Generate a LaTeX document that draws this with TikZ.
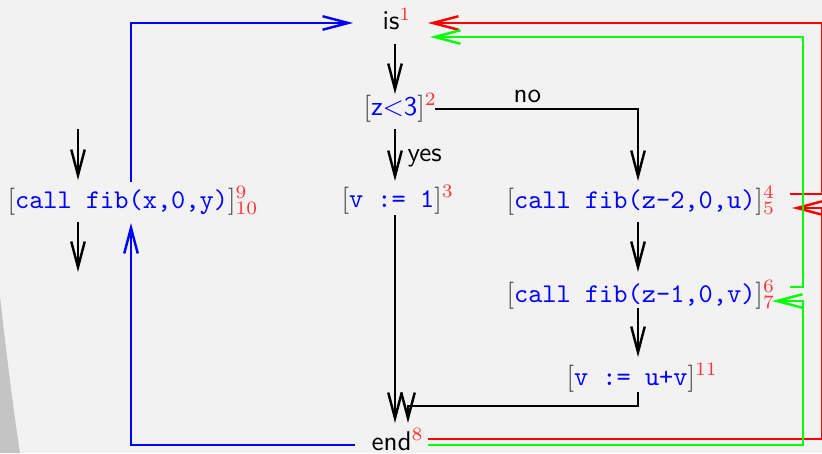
\documentclass[tikz,border=0pt]{standalone}
\usetikzlibrary{arrows.meta}
\definecolor{bg}{HTML}{F2F2F2}
\definecolor{numred}{HTML}{FF3333}
\definecolor{brk}{HTML}{404040}
\definecolor{flowblue}{HTML}{0000FF}
\definecolor{flowred}{HTML}{FF0000}
\definecolor{flowgreen}{HTML}{00FF00}
\definecolor{wedge}{HTML}{C4C4C4}
\newcommand{\stmt}[1]{\textcolor{brk}{\rmfamily[}\textcolor{flowblue}{#1}\textcolor{brk}{\rmfamily]}}
\newcommand{\lblone}[1]{$^{\textcolor{numred}{#1}}$}
\newcommand{\lbltwo}[2]{$^{\textcolor{numred}{#1}}_{\textcolor{numred}{#2}}$}
\begin{document}
\begin{tikzpicture}[x=0.3697pt,y=-0.3697pt,
  lab/.style={inner sep=0pt, anchor=base west, font=\sffamily},
  tip/.style={-{Straight Barb[length=9.5pt,width=5pt]}},
  flow/.style={line width=0.9pt, tip},
  blk/.style={flow, black},
  blu/.style={flow, flowblue},
  rd/.style={flow, flowred},
  gr/.style={flow, flowgreen}]
\useasboundingbox (0,0) rectangle (822,453);
\fill[bg] (0,0) rectangle (822,453);
\fill[wedge] (0,296) .. controls (6,350) and (12,400) .. (20,453) -- (0,453) -- cycle;

% nodes
\node[lab] (is) at (382,30) {is\lblone{1}};
\node[lab] (cond) at (363,115) {\stmt{z<3}\lblone{2}};
\node[lab] (yes) at (407,162) {yes};
\node[lab] (no) at (513,102) {no};
\node[lab] (vone) at (341,207) {\stmt{\texttt{v := 1}}\lblone{3}};
\node[lab] (callx) at (7,208) {\stmt{\texttt{call fib(x,0,y)}}\lbltwo{9}{10}};
\node[lab] (callu) at (506,208) {\stmt{\texttt{call fib(z-2,0,u)}}\lbltwo{4}{5}};
\node[lab] (callv) at (506,302) {\stmt{\texttt{call fib(z-1,0,v)}}\lbltwo{6}{7}};
\node[lab] (uv) at (566,385) {\stmt{\texttt{v := u+v}}\lblone{11}};
\node[lab] (end) at (371,450) {end\lblone{8}};

% coordinates
\coordinate (isS) at (395,44);
\coordinate (condN) at (395,94);
\coordinate (condS) at (395,129);
\coordinate (voneN) at (395,181);
\coordinate (condE) at (435,109);
\coordinate (calluN) at (638,181);
\coordinate (calluS) at (638,222);
\coordinate (callvN) at (638,272);
\coordinate (callvS) at (638,308);
\coordinate (uvN) at (638,357);
\coordinate (uvS) at (638,392);
\coordinate (uvC) at (408,406);
\coordinate (endNb) at (408,423);
\coordinate (voneS) at (395,215);
\coordinate (endN) at (395,423);
\coordinate (inA) at (78,129);
\coordinate (inB) at (78,180);
\coordinate (outA) at (78,222);
\coordinate (outB) at (78,272);
\coordinate (callxN) at (131,182);
\coordinate (isW) at (353,23);
\coordinate (endW) at (355,445);
\coordinate (callxS) at (131,223);
\coordinate (isEr) at (428,23);
\coordinate (isEg) at (430,37);
\coordinate (calluEr) at (790,194);
\coordinate (calluEa) at (792,208);
\coordinate (callvEg) at (790,287);
\coordinate (callvEa) at (772,301);
\coordinate (endEr) at (428,439);
\coordinate (endEg) at (428,445);

% black flow
\draw[blk] (isS) -- (condN);
\draw[blk] (condS) -- (voneN);
\draw[blk] (condE) -| (calluN);
\draw[blk] (calluS) -- (callvN);
\draw[blk] (callvS) -- (uvN);
\draw[blk] (voneS) -- (endN);
\draw[blk] (uvS) |- (uvC) -- (endNb);
\draw[blk] (inA) -- (inB);
\draw[blk] (outA) -- (outB);

% blue
\draw[blu] (callxN) |- (isW);
\draw[blu] (endW) -| (callxS);

% red
\draw[rd] (calluEr) -- (822.5,194) |- (isEr);
\draw[rd] (endEr) -| (822.5,208) -- (calluEa);

% green
\draw[gr] (callvEg) -- (803,287) |- (isEg);
\draw[gr] (endEg) -| (803,301) -- (callvEa);
\end{tikzpicture}
\end{document}
